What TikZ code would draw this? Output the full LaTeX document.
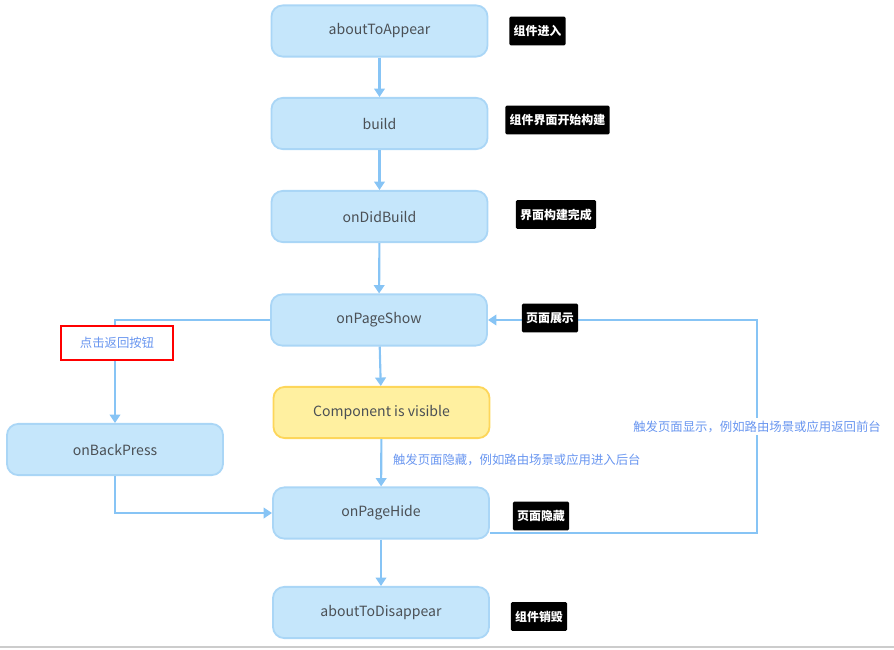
\documentclass[tikz,border=0pt]{standalone}
\usepackage{fontspec}
\setmainfont{Noto Sans CJK SC}
\usepackage{tikz}
\usetikzlibrary{positioning,arrows.meta,calc}
\definecolor{boxfill}{RGB}{197,230,251}
\definecolor{boxline}{RGB}{170,214,246}
\definecolor{visfill}{RGB}{255,240,160}
\definecolor{visline}{RGB}{253,214,90}
\definecolor{arrblue}{RGB}{135,196,245}
\definecolor{txtgray}{RGB}{75,80,85}
\definecolor{noteblue}{RGB}{105,150,240}
\tikzset{
    stage/.style={
        rectangle,
        draw=boxline,
        fill=boxfill,
        line width=1.3pt,
        rounded corners=8pt,
        minimum width=5.4cm,
        minimum height=1.28cm,
        inner sep=2pt,
        text=txtgray,
        font=\fontsize{10}{12}\selectfont
    },
    visible/.style={
        stage,
        draw=visline,
        fill=visfill
    },
    tag/.style={
        rectangle,
        fill=black,
        rounded corners=1pt,
        text=white,
        inner sep=3pt,
        minimum height=0.72cm,
        font=\fontsize{8.5}{10}\selectfont\bfseries
    },
    note/.style={
        text=noteblue,
        inner sep=2pt,
        font=\fontsize{8.8}{10}\selectfont
    },
    arr/.style={-{Triangle[width=7.5pt,length=6pt]},line width=1.5pt,arrblue},
    line/.style={line width=1.5pt,arrblue}
}
\begin{document}
\begin{tikzpicture}[x=0.025cm,y=-0.025cm]
\useasboundingbox (0,0) rectangle (894,650);
% main column
\node[stage] (appear) at (379.5,31) {aboutToAppear};
\node[stage] (build) at (379.5,123.5) {build};
\node[stage] (didbuild) at (379.5,216.5) {onDidBuild};
\node[stage] (show) at (379,320) {onPageShow};
\node[visible] (vis) at (381.5,412.5) {Component is visible};
\node[stage] (hide) at (381,513) {onPageHide};
\node[stage] (disappear) at (381,612.5) {aboutToDisappear};
\node[stage] (back) at (115,449.5) {onBackPress};
\draw[arr] (appear) -- (build);
\draw[arr] (build) -- (didbuild);
\draw[arr] (didbuild) -- (show);
\draw[arr] (show) -- (vis);
\draw[arr] (vis) -- (hide);
\draw[arr] (hide) -- (disappear);
% back button branch
\coordinate (bk) at (115,320);
\draw[arr] (show.west) -- (bk) -- (back.north);
\draw[arr] (back.south) |- (hide.west);
% return to foreground
\coordinate (ret) at (757,533);
\draw[arr] (hide.east |- ret) -- (ret) |- node[pos=0.25,note,fill=white] (fgtxt) {触发页面显示，例如路由场景或应用返回前台} (show.east);
% labels
\node[note,draw=red,line width=1.5pt,fill=white,minimum width=2.8cm,minimum height=0.85cm] (backtxt) at (117,343) {点击返回按钮};
\node[note,anchor=west] (bgtxt) at (390,460) {触发页面隐藏，例如路由场景或应用进入后台};
\node[tag] (t1) at (537.5,31) {组件进入};
\node[tag] (t2) at (557.5,120) {组件界面开始构建};
\node[tag] (t3) at (556,214.5) {界面构建完成};
\node[tag] (t4) at (550,318) {页面展示};
\node[tag] (t5) at (541,516) {页面隐藏};
\node[tag] (t6) at (539,616.5) {组件销毁};
\draw[black!20,line width=1pt] (0,647) -- (894,647);
\end{tikzpicture}
\end{document}
